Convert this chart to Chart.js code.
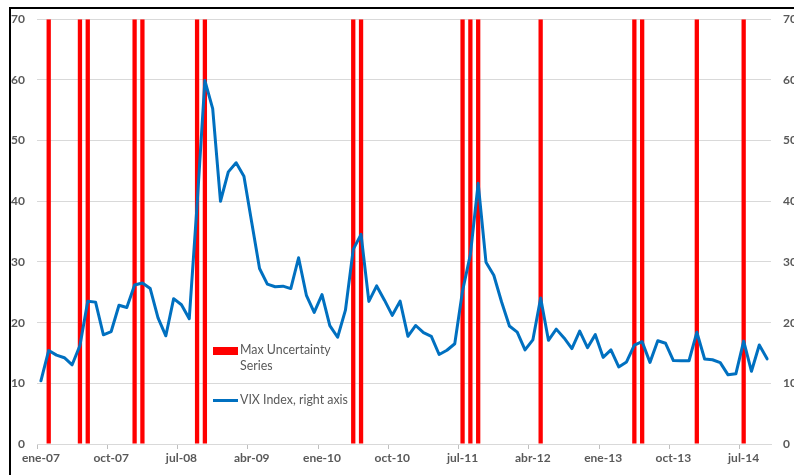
<!DOCTYPE html>
<html>
<head>
<meta charset="utf-8">
<script src="https://cdn.jsdelivr.net/npm/chart.js@4"></script>
<style>
  html, body { margin: 0; padding: 0; background: #ffffff; }
  #wrap { position: relative; width: 794px; height: 475px; overflow: hidden; }
  #frame { position: absolute; left: 9px; top: 7px; right: -10px; bottom: -10px;
           border-top: 2px solid #000; border-left: 2px solid #000; pointer-events: none; }
  .lg { position: absolute; font-family: Lato, "Open Sans", sans-serif; font-size: 12.4px;
        line-height: 16px; color: #595959; white-space: nowrap; }
  .sw { position: absolute; }
</style>
</head>
<body>
<div id="wrap">
  <canvas id="c" width="794" height="475"></canvas>
  <div id="frame"></div>
  <div class="sw" style="left:213px;top:347px;width:25px;height:8px;background:#FF0000;"></div>
  <div class="lg" style="left:240px;top:342px;">Max Uncertainty<br>Series</div>
  <div class="sw" style="left:213px;top:399px;width:25px;height:3px;background:#0070C0;"></div>
  <div class="lg" style="left:240px;top:392px;">VIX Index, right axis</div>
</div>
<script>
// Monthly categories, Jan 2007 – Oct 2014 (Spanish month abbreviations)
const monthNames = ['ene','feb','mar','abr','may','jun','jul','ago','sep','oct','nov','dic'];
const years = ['07','08','09','10','11','12','13','14'];
const categories = [];
years.forEach(y => monthNames.forEach(m => categories.push(m + '-' + y)));
categories.length = 94;

// VIX index (right axis)
const vix2007 = [10.42, 15.42, 14.64, 14.22, 13.05, 16.23, 23.52, 23.38, 18.00, 18.53, 22.87, 22.50];
const vix2008 = [26.20, 26.54, 25.61, 20.79, 17.83, 23.95, 22.94, 20.65, 39.39, 59.89, 55.28, 40.00];
const vix2009 = [44.84, 46.35, 44.14, 36.50, 28.92, 26.35, 25.92, 26.01, 25.61, 30.69, 24.51, 21.68];
const vix2010 = [24.62, 19.50, 17.59, 22.05, 32.07, 34.54, 23.50, 26.05, 23.70, 21.20, 23.54, 17.75];
const vix2011 = [19.53, 18.35, 17.74, 14.75, 15.45, 16.52, 25.25, 31.20, 42.96, 29.96, 27.80, 23.40];
const vix2012 = [19.44, 18.43, 15.50, 17.15, 24.06, 17.08, 18.93, 17.47, 15.73, 18.60, 15.87, 18.02];
const vix2013 = [14.28, 15.51, 12.70, 13.52, 16.30, 16.86, 13.45, 17.01, 16.60, 13.75, 13.70, 13.72];
const vix2014 = [18.41, 14.00, 13.88, 13.41, 11.40, 11.57, 16.95, 11.98, 16.31, 14.03];
const vixValues = [].concat(vix2007, vix2008, vix2009, vix2010, vix2011, vix2012, vix2013, vix2014);

// Months flagged by the Max Uncertainty series (bar height = top of left axis)
const maxUncertaintyMonths = ['feb-07','jun-07','jul-07','ene-08','feb-08','sep-08','oct-08',
  'may-10','jun-10','jul-11','ago-11','sep-11','may-12','may-13','jun-13','ene-14','jul-14'];
const maxUncertaintyLevel = 70;
const maxUncertaintyValues = categories.map(c => maxUncertaintyMonths.includes(c) ? maxUncertaintyLevel : null);

// Axis ticks
const yTicks = [0, 10, 20, 30, 40, 50, 60, 70];
const labelEvery = 9;

const tickFont = { family: 'Lato', size: 12, weight: 'bold' };
const textColor = '#595959';
const gridColor = '#d9d9d9';

new Chart(document.getElementById('c'), {
  type: 'bar',
  data: {
    labels: categories,
    datasets: [
      {
        type: 'line',
        label: 'VIX Index, right axis',
        data: vixValues,
        yAxisID: 'yR',
        borderColor: '#0070C0',
        backgroundColor: '#0070C0',
        borderWidth: 3,
        borderJoinStyle: 'round',
        borderCapStyle: 'round',
        pointRadius: 0,
        tension: 0,
        order: 0
      },
      {
        type: 'bar',
        label: 'Max Uncertainty Series',
        data: maxUncertaintyValues,
        yAxisID: 'yL',
        backgroundColor: '#FF0000',
        borderWidth: 0,
        categoryPercentage: 1.0,
        barPercentage: 0.55,
        order: 1
      }
    ]
  },
  options: {
    responsive: false,
    animation: false,
    layout: { padding: { top: 16, left: 0, right: 0, bottom: 0 } },
    plugins: { legend: { display: false }, tooltip: { enabled: false } },
    scales: {
      x: {
        type: 'category',
        offset: true,
        grid: {
          offset: true,
          drawOnChartArea: false,
          drawTicks: true,
          tickLength: 5,
          tickWidth: 1,
          tickColor: (ctx) => (ctx.index % labelEvery === 0 ? '#bfbfbf' : 'rgba(0,0,0,0)')
        },
        border: { display: true, color: gridColor, width: 1 },
        ticks: {
          autoSkip: false,
          maxRotation: 0,
          minRotation: 0,
          padding: 2,
          font: tickFont,
          color: textColor,
          callback: (v, i) => (i % labelEvery === 0 ? categories[i] : '')
        },
        afterFit: (s) => { s.height = 31; }
      },
      yL: {
        position: 'left',
        min: 0, max: 70,
        afterBuildTicks: (s) => { s.ticks = yTicks.map(v => ({ value: v })); },
        grid: { color: gridColor, lineWidth: 1, drawTicks: false },
        border: { display: false },
        ticks: { padding: 12, font: tickFont, color: textColor },
        afterFit: (s) => { s.width = 37; }
      },
      yR: {
        position: 'right',
        min: 0, max: 70,
        afterBuildTicks: (s) => { s.ticks = yTicks.map(v => ({ value: v })); },
        grid: { drawOnChartArea: false, drawTicks: false },
        border: { display: false },
        ticks: { padding: 12, font: tickFont, color: textColor },
        afterFit: (s) => { s.width = 23; }
      }
    }
  }
});
</script>
</body>
</html>
